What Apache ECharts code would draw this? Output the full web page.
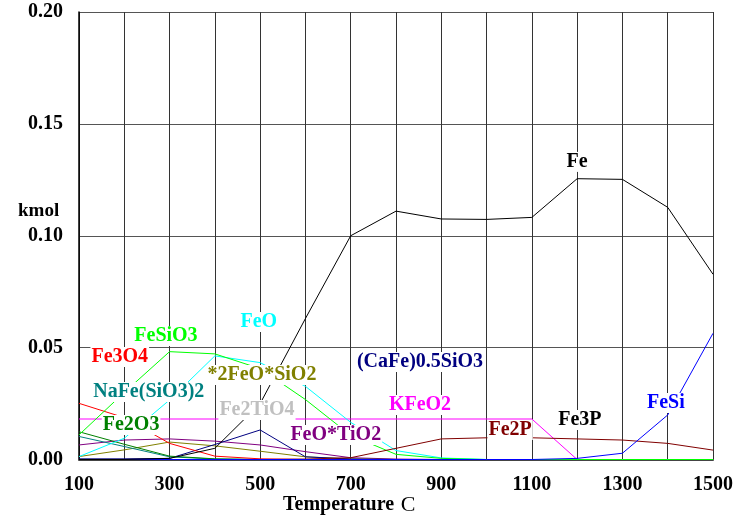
<!DOCTYPE html>
<html>
<head>
<meta charset="utf-8">
<script src="https://cdn.jsdelivr.net/npm/echarts@6/dist/echarts.min.js"></script>
<style>
  html, body { margin: 0; padding: 0; background: #fff; }
  #chart { width: 738px; height: 517px; }
</style>
</head>
<body>
<div id="chart"></div>
<script>
// temperature grid, C
const temps = [100, 200, 300, 400, 500, 600, 700, 800, 900, 1000, 1100, 1200, 1300, 1400, 1500];

// kmol per species
const fe        = [0, 0, 0.0005, 0.005, 0.025, 0.063, 0.100, 0.111, 0.1075, 0.1073, 0.1082, 0.1255, 0.1252, 0.1127, 0.0828];
const feSi      = [0, 0, 0, 0, 0, 0, 0, 0, 0, 0, 0, 0.0005, 0.0028, 0.0199, 0.0564];
const fe2P      = [0, 0, 0, 0, 0, 0.0002, 0.0008, 0.005, 0.0092, 0.0097, 0.0097, 0.0092, 0.0087, 0.0072, 0.0042];
const fe3P      = [0, 0, 0, 0, 0, 0, 0, 0, 0, 0, 0, 0, 0, 0, 0];
const kFeO2     = [0.0181, 0.0181, 0.0181, 0.0181, 0.0181, 0.0181, 0.0181, 0.0181, 0.0181, 0.0181, 0.0181, 0, 0, 0, 0];
const fe3O4     = [0.0251, 0.0187, 0.0072, 0.0015, 0.0003, 0, 0, 0, 0, 0, 0, 0, 0, 0, 0];
const feSiO3    = [0.011, 0.030, 0.0482, 0.0472, 0.0406, 0.0268, 0.0108, 0.0023, 0.0005, 0, 0, 0, 0, 0, 0];
const feO       = [0.0013, 0.0095, 0.0266, 0.0463, 0.0433, 0.0327, 0.0166, 0.0040, 0.0007, 0, 0, 0, 0, 0, 0];
const fe2O3     = [0.0124, 0.0068, 0.0015, 0.0003, 0, 0, 0, 0, 0, 0, 0, 0, 0, 0, 0];
const naFeSiO3  = [0.0103, 0.0058, 0.0012, 0.0002, 0, 0, 0, 0, 0, 0, 0, 0, 0, 0, 0];
const fe2SiO4   = [0.0013, 0.0043, 0.0078, 0.0061, 0.0037, 0.0012, 0.0003, 0, 0, 0, 0, 0, 0, 0, 0];
const fe2TiO4   = [0, 0, 0, 0, 0, 0, 0, 0, 0, 0, 0, 0, 0, 0, 0];
const feTiO3    = [0.0065, 0.0087, 0.0092, 0.0082, 0.0065, 0.0035, 0.0008, 0.0002, 0, 0, 0, 0, 0, 0, 0];
const caFeSiO3  = [0.0003, 0.0003, 0.0005, 0.0067, 0.0132, 0.0012, 0.0002, 0, 0, 0, 0, 0, 0, 0, 0];

// curve labels: name, anchor temperature, anchor kmol
const labelNames = ['Fe', 'FeSiO3', 'Fe3O4', 'NaFe(SiO3)2', 'Fe2O3', 'FeO', '*2FeO*SiO2', 'Fe2TiO4', 'FeO*TiO2', '(CaFe)0.5SiO3', 'KFeO2', 'Fe2P', 'Fe3P', 'FeSi'];
const labelX = [1200, 292, 190, 254, 215, 497, 504, 493, 667, 853, 853, 1052, 1206, 1396];
const labelY = [0.133, 0.0552, 0.0458, 0.0302, 0.0154, 0.0615, 0.0378, 0.0221, 0.011, 0.0436, 0.0244, 0.0132, 0.0177, 0.0253];

const colors = {
  'Fe': '#000000', 'FeSiO3': '#00ff00', 'Fe3O4': '#ff0000', 'NaFe(SiO3)2': '#008080',
  'Fe2O3': '#008000', 'FeO': '#00ffff', '*2FeO*SiO2': '#808000', 'Fe2TiO4': '#c0c0c0',
  'FeO*TiO2': '#800080', '(CaFe)0.5SiO3': '#000080', 'KFeO2': '#ff00ff', 'Fe2P': '#800000',
  'Fe3P': '#000000', 'FeSi': '#0000ff'
};

const seriesData = [
  ['Fe2TiO4', fe2TiO4], ['Fe3P', fe3P], ['FeO*TiO2', feTiO3], ['*2FeO*SiO2', fe2SiO4],
  ['(CaFe)0.5SiO3', caFeSiO3], ['NaFe(SiO3)2', naFeSiO3], ['Fe2O3', fe2O3], ['Fe3O4', fe3O4],
  ['KFeO2', kFeO2], ['FeO', feO], ['FeSiO3', feSiO3], ['Fe2P', fe2P], ['FeSi', feSi], ['Fe', fe]
];

const font = "'Liberation Serif', 'Times New Roman', serif";

const chart = echarts.init(document.getElementById('chart'));

const lineSeries = seriesData.map(([name, vals]) => ({
  name: name,
  type: 'line',
  data: temps.map((t, i) => [t, vals[i]]),
  symbol: 'none',
  lineStyle: { color: colors[name], width: 1 },
  z: 3
}));

// labels sit on a white box that hides the lines underneath
const labelSeries = {
  type: 'scatter',
  symbolSize: 1,
  itemStyle: { opacity: 0 },
  z: 10,
  data: labelNames.map((n, i) => ({
    name: n,
    value: [labelX[i], labelY[i]],
    label: { color: colors[n] }
  })),
  label: {
    show: true,
    position: 'inside',
    formatter: p => p.name,
    fontFamily: font,
    fontWeight: 'bold',
    fontSize: 20,
    opacity: 1,
    textBorderWidth: 0,
    textBorderColor: 'transparent',
    backgroundColor: '#ffffff',
    padding: [0, 1]
  },
  emphasis: { disabled: true }
};

chart.setOption({
  animation: false,
  backgroundColor: '#fff',
  grid: { left: 79, right: 25, top: 12, bottom: 57.5, containLabel: false, outerBoundsMode: 'none' },
  xAxis: {
    type: 'value',
    min: 100,
    max: 1500,
    interval: 100,
    axisLine: { lineStyle: { color: '#444', width: 2 } },
    axisTick: { show: false },
    axisLabel: {
      margin: 15,
      color: '#000',
      fontFamily: font,
      fontWeight: 'bold',
      fontSize: 20,
      formatter: v => ((v - 100) % 200 === 0 ? String(v) : '')
    },
    splitLine: { show: true, lineStyle: { color: '#333', width: 1 } }
  },
  yAxis: {
    type: 'value',
    min: 0,
    max: 0.2,
    interval: 0.05,
    axisLine: { show: true, lineStyle: { color: '#000', width: 1.5 } },
    axisTick: { show: false },
    axisLabel: {
      margin: 16,
      color: '#000',
      fontFamily: font,
      fontWeight: 'bold',
      fontSize: 20,
      formatter: v => v.toFixed(2)
    },
    splitLine: { show: true, lineStyle: { color: '#555', width: 1 } }
  },
  graphic: [{
    type: 'text',
    left: 18,
    top: 202,
    style: { text: 'kmol', fontFamily: font, fontWeight: 'bold', fontSize: 19, fill: '#000' }
  }, {
    type: 'text',
    left: 283,
    top: 494,
    style: {
      text: '{a|Temperature}  {b|C}',
      rich: {
        a: { fontFamily: font, fontWeight: 'bold', fontSize: 20, fill: '#000' },
        b: { fontFamily: font, fontSize: 22, fill: '#000' }
      }
    }
  }],
  series: lineSeries.concat([labelSeries])
});
</script>
</body>
</html>
